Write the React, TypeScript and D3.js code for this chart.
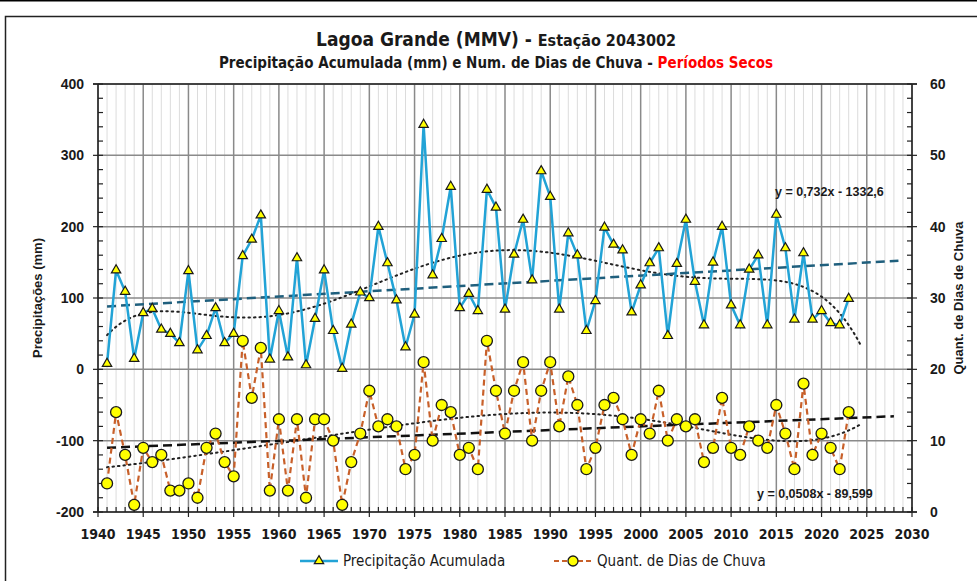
import React, { useEffect, useRef } from 'react';
import * as d3 from 'd3';

// anos 1941..2023
const years: number[] = d3.range(1941, 2024);

const precip: number[] = [
  8, 139, 109, 15, 79, 85, 56, 50, 37, 138,
  27, 47, 86, 37, 50, 159, 182, 216, 14, 82,
  17, 156, 6, 71, 139, 54, 1, 63, 108, 100,
  200, 149, 97, 31, 77, 343, 132, 183, 256, 86,
  106, 82, 252, 227, 84, 161, 210, 125, 278, 242,
  84, 191, 160, 54, 96, 199, 175, 167, 80, 118,
  149, 170, 47, 148, 210, 123, 62, 150, 200, 90,
  62, 140, 160, 62, 217, 170, 70, 163, 70, 82,
  65, 62, 99,
];

const rainDays: number[] = [
  4, 14, 8, 1, 9, 7, 8, 3, 3, 4,
  2, 9, 11, 7, 5, 24, 16, 23, 3, 13,
  3, 13, 2, 13, 13, 10, 1, 7, 11, 17,
  12, 13, 12, 6, 8, 21, 10, 15, 14, 8,
  9, 6, 24, 17, 11, 17, 21, 10, 17, 21,
  12, 19, 15, 6, 9, 15, 16, 13, 8, 13,
  11, 17, 10, 13, 12, 13, 7, 9, 16, 9,
  8, 12, 10, 9, 15, 11, 6, 18, 8, 11,
  9, 6, 14,
];

// coeficientes das linhas de tendência
const precipLinear = [0.732, -1332.6];
const daysLinear = [0.0508, -89.599];

const xTicks: number[] = d3.range(1940, 2031, 5);
const yLeftTicks: number[] = [-200, -100, 0, 100, 200, 300, 400];
const yRightTicks: number[] = [0, 10, 20, 30, 40, 50, 60];

// ajuste polinomial (ordem 6) por mínimos quadrados
function polyFit(xs: number[], ys: number[], order: number) {
  const c = 1982, s = 41;
  const n = order + 1;
  const A: number[][] = Array.from({ length: n }, () => new Array(n + 1).fill(0));
  xs.forEach((x, k) => {
    const t = (x - c) / s;
    for (let i = 0; i < n; i++) {
      for (let j = 0; j < n; j++) A[i][j] += Math.pow(t, i + j);
      A[i][n] += ys[k] * Math.pow(t, i);
    }
  });
  for (let i = 0; i < n; i++) {
    let p = i;
    for (let r = i + 1; r < n; r++) if (Math.abs(A[r][i]) > Math.abs(A[p][i])) p = r;
    [A[i], A[p]] = [A[p], A[i]];
    for (let r = 0; r < n; r++) {
      if (r === i) continue;
      const f = A[r][i] / A[i][i];
      for (let k = i; k <= n; k++) A[r][k] -= f * A[i][k];
    }
  }
  const coef = A.map((row, i) => row[n] / row[i]);
  return (x: number) => {
    const t = (x - c) / s;
    return coef.reduce((acc, a, i) => acc + a * Math.pow(t, i), 0);
  };
}

const W = 977;
const H = 581;
const narrow = "'Liberation Sans Narrow', 'DejaVu Sans Condensed', 'Arial Narrow', sans-serif";
const arial = "'Liberation Sans', Arial, sans-serif";

const App: React.FC = () => {
  const svgRef = useRef<SVGSVGElement>(null);

  useEffect(() => {
    if (!svgRef.current) return;
    const svg = d3.select(svgRef.current);
    svg.selectAll("*").remove();

    const left = 98, right = 912, top = 84, bottom = 512;

    const x = d3.scaleLinear().domain([1940, 2030]).range([left, right]);
    const yL = d3.scaleLinear().domain([-200, 400]).range([bottom, top]);
    const yR = d3.scaleLinear().domain([0, 60]).range([bottom, top]);

    svg.append("rect").attr("width", W).attr("height", H).attr("fill", "#fff");
    // moldura
    svg.append("line").attr("x1", 0).attr("x2", W).attr("y1", 0.5).attr("y2", 0.5)
      .attr("stroke", "#000").attr("stroke-width", 2);
    svg.append("rect").attr("x", 5.5).attr("y", 16.5).attr("width", W + 10).attr("height", H)
      .attr("fill", "none").attr("stroke", "#222").attr("stroke-width", 1.5);

    // grade menor
    const g = svg.append("g");
    d3.range(1940, 2031).filter(v => v % 5 !== 0).forEach(v => {
      g.append("line").attr("x1", x(v)).attr("x2", x(v)).attr("y1", top).attr("y2", bottom)
        .attr("stroke", "#dcdcdc").attr("stroke-width", 1);
    });
    xTicks.forEach(v => {
      g.append("line").attr("x1", x(v)).attr("x2", x(v)).attr("y1", top).attr("y2", bottom)
        .attr("stroke", "#8a8a8a").attr("stroke-width", 1.5);
    });
    yLeftTicks.forEach(v => {
      g.append("line").attr("x1", left).attr("x2", right).attr("y1", yL(v)).attr("y2", yL(v))
        .attr("stroke", "#8a8a8a").attr("stroke-width", 1.5);
    });
    g.append("line").attr("x1", left - 5).attr("x2", right + 5).attr("y1", top).attr("y2", top)
      .attr("stroke", "#222").attr("stroke-width", 1.5);

    // eixos
    const axL = svg.append("g");
    axL.append("line").attr("x1", left).attr("x2", left).attr("y1", top).attr("y2", bottom)
      .attr("stroke", "#222").attr("stroke-width", 1.5);
    d3.range(-200, 401, 20).forEach(v => {
      const major = v % 100 === 0;
      axL.append("line").attr("x1", major ? left - 5 : left).attr("x2", left + 5)
        .attr("y1", yL(v)).attr("y2", yL(v)).attr("stroke", "#222").attr("stroke-width", 1.2);
    });
    yLeftTicks.forEach(v => {
      axL.append("text").attr("x", 84).attr("y", yL(v)).attr("dy", "0.35em")
        .attr("text-anchor", "end").style("font-family", arial).style("font-size", "14px")
        .style("font-weight", "700").style("fill", "#1a1a1a").text(v);
    });

    const axR = svg.append("g");
    axR.append("line").attr("x1", right).attr("x2", right).attr("y1", top).attr("y2", bottom)
      .attr("stroke", "#222").attr("stroke-width", 1.5);
    d3.range(0, 61, 2).forEach(v => {
      const major = v % 10 === 0;
      axR.append("line").attr("x1", right - 5).attr("x2", major ? right + 5 : right)
        .attr("y1", yR(v)).attr("y2", yR(v)).attr("stroke", "#222").attr("stroke-width", 1.2);
    });
    yRightTicks.forEach(v => {
      axR.append("text").attr("x", 930).attr("y", yR(v)).attr("dy", "0.35em")
        .attr("text-anchor", "start").style("font-family", arial).style("font-size", "14px")
        .style("font-weight", "700").style("fill", "#1a1a1a").text(v);
    });

    const axB = svg.append("g");
    axB.append("line").attr("x1", left - 5).attr("x2", right + 5).attr("y1", bottom).attr("y2", bottom)
      .attr("stroke", "#222").attr("stroke-width", 1.5);
    d3.range(1940, 2031).forEach(v => {
      const major = v % 5 === 0;
      axB.append("line").attr("x1", x(v)).attr("x2", x(v))
        .attr("y1", bottom - 5).attr("y2", major ? bottom + 5 : bottom)
        .attr("stroke", "#222").attr("stroke-width", 1.2);
    });
    xTicks.forEach(v => {
      axB.append("text").attr("x", x(v)).attr("y", 539).attr("text-anchor", "middle")
        .style("font-family", narrow).style("font-size", "14px").style("font-weight", "700")
        .style("fill", "#1a1a1a").text(v);
    });

    // títulos dos eixos
    svg.append("text").attr("transform", `translate(42,${(top + bottom) / 2}) rotate(-90)`)
      .attr("text-anchor", "middle").style("font-family", arial).style("font-size", "13px")
      .style("font-weight", "700").style("fill", "#1a1a1a").text("Precipitações (mm)");
    svg.append("text").attr("transform", `translate(963,${(top + bottom) / 2}) rotate(-90)`)
      .attr("text-anchor", "middle").style("font-family", arial).style("font-size", "13px")
      .style("font-weight", "700").style("fill", "#1a1a1a").text("Quant. de Dias de Chuva");

    // título
    const t1 = svg.append("text").attr("x", 496).attr("y", 46).attr("text-anchor", "middle")
      .style("font-family", narrow).style("font-weight", "700").style("fill", "#1a1a1a");
    t1.append("tspan").style("font-size", "19px").text("Lagoa Grande (MMV) - ");
    t1.append("tspan").style("font-size", "16px").text(" Estação 2043002");
    const t2 = svg.append("text").attr("x", 496).attr("y", 68).attr("text-anchor", "middle")
      .style("font-family", narrow).style("font-size", "15px").style("font-weight", "700")
      .style("fill", "#1a1a1a");
    t2.append("tspan").text("Precipitação Acumulada (mm) e Num. de Dias de Chuva - ");
    t2.append("tspan").style("fill", "#ff0000").text("Períodos Secos");

    // tendências
    const trendYears = d3.range(1941, 2028.51, 0.25);
    const polyYears = d3.range(1941, 2024.41, 0.25);
    const pPoly = polyFit(years, precip, 6);
    const dPoly = polyFit(years, rainDays, 6);

    const lineL = d3.line<[number, number]>().x(d => x(d[0])).y(d => yL(d[1]));
    const lineR = d3.line<[number, number]>().x(d => x(d[0])).y(d => yR(d[1]));

    svg.append("path")
      .attr("d", lineL(polyYears.map(v => [v, pPoly(v)] as [number, number])))
      .attr("fill", "none").attr("stroke", "#222").attr("stroke-width", 2)
      .attr("stroke-dasharray", "1.5,4").attr("stroke-linecap", "round");
    svg.append("path")
      .attr("d", lineR(polyYears.map(v => [v, dPoly(v)] as [number, number])))
      .attr("fill", "none").attr("stroke", "#222").attr("stroke-width", 2)
      .attr("stroke-dasharray", "1.5,4").attr("stroke-linecap", "round");

    svg.append("path")
      .attr("d", lineL([1941, 2028.5].map(v => [v, precipLinear[0] * v + precipLinear[1]] as [number, number])))
      .attr("fill", "none").attr("stroke", "#1f5f7d").attr("stroke-width", 2.5)
      .attr("stroke-dasharray", "9,5");
    svg.append("path")
      .attr("d", lineR([1941, 2028].map(v => [v, daysLinear[0] * v + daysLinear[1]] as [number, number])))
      .attr("fill", "none").attr("stroke", "#111").attr("stroke-width", 2.5)
      .attr("stroke-dasharray", "9,5");

    // séries
    svg.append("path")
      .attr("d", lineR(years.map((yr, i) => [yr, rainDays[i]] as [number, number])))
      .attr("fill", "none").attr("stroke", "#c8602a").attr("stroke-width", 2.2)
      .attr("stroke-dasharray", "6,4");
    svg.append("path")
      .attr("d", lineL(years.map((yr, i) => [yr, precip[i]] as [number, number])))
      .attr("fill", "none").attr("stroke", "#22a3d6").attr("stroke-width", 2.5);

    const tri = d3.symbol().type(d3.symbolTriangle).size(38);
    svg.append("g").selectAll("path").data(years).join("path")
      .attr("transform", (yr, i) => `translate(${x(yr)},${yL(precip[i])})`)
      .attr("d", tri()).attr("fill", "#ffff00").attr("stroke", "#1a1a1a").attr("stroke-width", 1.2);

    svg.append("g").selectAll("circle").data(years).join("circle")
      .attr("cx", yr => x(yr)).attr("cy", (yr, i) => yR(rainDays[i])).attr("r", 5.5)
      .attr("fill", "#ffff00").attr("stroke", "#1a1a1a").attr("stroke-width", 1.3);

    // equações
    svg.append("text").attr("x", 775).attr("y", 196)
      .style("font-family", arial).style("font-size", "12.5px").style("font-weight", "700")
      .style("fill", "#1a1a1a").text("y = 0,732x - 1332,6");
    svg.append("text").attr("x", 757).attr("y", 498)
      .style("font-family", arial).style("font-size", "12.5px").style("font-weight", "700")
      .style("fill", "#1a1a1a").text("y = 0,0508x - 89,599");

    // legenda
    const lg = svg.append("g");
    lg.append("line").attr("x1", 300).attr("x2", 338).attr("y1", 561).attr("y2", 561)
      .attr("stroke", "#22a3d6").attr("stroke-width", 2.5);
    lg.append("path").attr("transform", "translate(319,561)").attr("d", tri())
      .attr("fill", "#ffff00").attr("stroke", "#1a1a1a").attr("stroke-width", 1.2);
    lg.append("text").attr("x", 343).attr("y", 566)
      .style("font-family", narrow).style("font-size", "15px").style("fill", "#1a1a1a")
      .text("Precipitação Acumulada");
    lg.append("line").attr("x1", 554).attr("x2", 592).attr("y1", 561).attr("y2", 561)
      .attr("stroke", "#c8602a").attr("stroke-width", 2.2).attr("stroke-dasharray", "5,3");
    lg.append("circle").attr("cx", 573).attr("cy", 561).attr("r", 5)
      .attr("fill", "#ffff00").attr("stroke", "#1a1a1a").attr("stroke-width", 1.3);
    lg.append("text").attr("x", 597).attr("y", 566)
      .style("font-family", narrow).style("font-size", "15px").style("fill", "#1a1a1a")
      .text("Quant. de Dias de Chuva");
  }, []);

  return (
    <svg ref={svgRef} width={W} height={H}
      style={{ position: 'absolute', left: 0, top: 0, display: 'block' }} />
  );
};

export default App;
